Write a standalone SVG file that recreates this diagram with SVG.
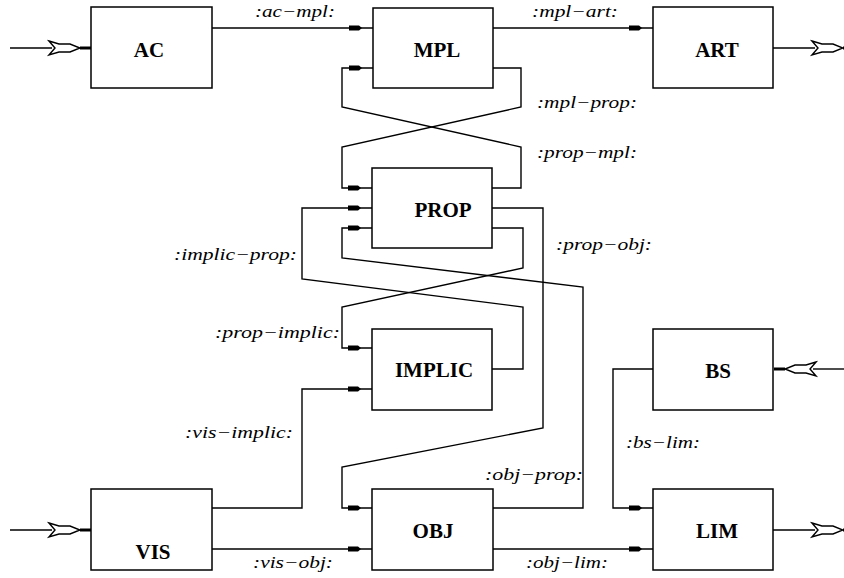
<svg xmlns="http://www.w3.org/2000/svg" xmlns:xlink="http://www.w3.org/1999/xlink" width="844" height="578" viewBox="0 0 844 578">
<style>
.box{fill:#fff;stroke:#000;stroke-width:1.5}
.name{font-family:"Liberation Serif","Times New Roman",serif;font-weight:bold;font-size:21px;text-anchor:middle;fill:#000}
.lbl{font-family:"Liberation Serif","Times New Roman",serif;font-style:italic;font-size:16px;fill:#000}
.ln{fill:none;stroke:#000;stroke-width:1.4;marker-end:url(#fa)}
.io{fill:none;stroke:#000;stroke-width:1.4}
</style>
<defs>
<marker id="fa" markerUnits="userSpaceOnUse" viewBox="-26 -4 28 8" refX="0" refY="0" markerWidth="28" markerHeight="8" orient="auto">
<path d="M-24,-2.5 L-14,-2.5 L-11,0 L-14,2.5 L-24,2.5 Z" fill="#000"/>
</marker>
<g id="oa">
<path d="M0,-7 L10,-4 L21,-4 L31,0 L21,4 L10,4 L0,7 L6,0 Z" fill="#fff" stroke="#000" stroke-width="1.4" stroke-linejoin="miter"/>
<line x1="31" y1="0" x2="42" y2="0" stroke="#000" stroke-width="3"/>
</g>
</defs>
<rect width="844" height="578" fill="#fff"/>

<g id="connectors">
<polyline class="ln" points="212,28 373,28"/>
<polyline class="ln" points="493,28 653,28"/>
<polyline class="ln" points="493,68 521,68 521,107 342,147 342,188 372,188"/>
<polyline class="ln" points="492,188 521,188 521,147 342,107 342,68 373,68"/>
<polyline class="ln" points="492,369 523,369 523,307 302,279 302,208 372,208"/>
<polyline class="ln" points="492,228 523,228 523,268 342,307 342,348 372,348"/>
<polyline class="ln" points="493,508 583,508 583,287 342,258 342,228 372,228"/>
<polyline class="ln" points="492,208 543,208 543,428 342,467 342,508 372,508"/>
<polyline class="ln" points="212,508 302,508 302,389 372,389"/>
<polyline class="ln" points="212,549 372,549"/>
<polyline class="ln" points="493,549 653,549"/>
<polyline class="ln" points="653,369 613,369 613,508 653,508"/>
<line class="io" x1="10" y1="48" x2="52" y2="48"/>
<use xlink:href="#oa" transform="translate(49,48)"/>
<line class="io" x1="10" y1="530" x2="52" y2="530"/>
<use xlink:href="#oa" transform="translate(49,530)"/>
<line class="io" x1="773" y1="48" x2="815" y2="48"/>
<use xlink:href="#oa" transform="translate(812,48)"/>
<line class="io" x1="773" y1="530" x2="815" y2="530"/>
<use xlink:href="#oa" transform="translate(812,530)"/>
<line class="io" x1="844" y1="369" x2="813" y2="369"/>
<use xlink:href="#oa" transform="translate(816,369) scale(-1,1)"/>
<text class="lbl" x="255" y="17" textLength="80" lengthAdjust="spacingAndGlyphs">:ac−mpl:</text>
<text class="lbl" x="532" y="17" textLength="86" lengthAdjust="spacingAndGlyphs">:mpl−art:</text>
<text class="lbl" x="537" y="108" textLength="100" lengthAdjust="spacingAndGlyphs">:mpl−prop:</text>
<text class="lbl" x="537" y="158" textLength="100" lengthAdjust="spacingAndGlyphs">:prop−mpl:</text>
<text class="lbl" x="556" y="250" textLength="96" lengthAdjust="spacingAndGlyphs">:prop−obj:</text>
<text class="lbl" x="174" y="260" textLength="123" lengthAdjust="spacingAndGlyphs">:implic−prop:</text>
<text class="lbl" x="215" y="338" textLength="125" lengthAdjust="spacingAndGlyphs">:prop−implic:</text>
<text class="lbl" x="185" y="438" textLength="108" lengthAdjust="spacingAndGlyphs">:vis−implic:</text>
<text class="lbl" x="253" y="568" textLength="80" lengthAdjust="spacingAndGlyphs">:vis−obj:</text>
<text class="lbl" x="485" y="480" textLength="98" lengthAdjust="spacingAndGlyphs">:obj−prop:</text>
<text class="lbl" x="626" y="448" textLength="74" lengthAdjust="spacingAndGlyphs">:bs−lim:</text>
<text class="lbl" x="526" y="568" textLength="82" lengthAdjust="spacingAndGlyphs">:obj−lim:</text>
</g>

<g id="AC"><rect class="box" x="91" y="7" width="121" height="81"/><text class="name" x="149" y="57">AC</text></g>
<g id="MPL"><rect class="box" x="373" y="8" width="120" height="80"/><text class="name" x="437" y="57">MPL</text></g>
<g id="ART"><rect class="box" x="653" y="7" width="120" height="81"/><text class="name" x="717" y="57">ART</text></g>
<g id="PROP"><rect class="box" x="372" y="168" width="120" height="80"/><text class="name" x="443" y="217">PROP</text></g>
<g id="IMPLIC"><rect class="box" x="372" y="329" width="120" height="81"/><text class="name" x="434" y="377">IMPLIC</text></g>
<g id="BS"><rect class="box" x="653" y="329" width="120" height="81"/><text class="name" x="718" y="378">BS</text></g>
<g id="VIS"><rect class="box" x="91" y="489" width="121" height="81"/><text class="name" x="153" y="559">VIS</text></g>
<g id="OBJ"><rect class="box" x="372" y="489" width="121" height="81"/><text class="name" x="433" y="538">OBJ</text></g>
<g id="LIM"><rect class="box" x="653" y="489" width="120" height="81"/><text class="name" x="717" y="538">LIM</text></g>
</svg>
